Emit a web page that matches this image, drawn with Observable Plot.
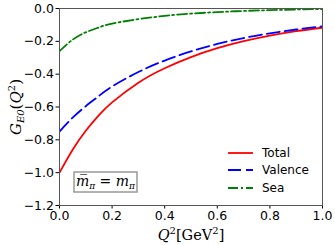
<!DOCTYPE html>
<html>
<head>
<meta charset="utf-8">
<script src="https://cdn.jsdelivr.net/npm/d3@7"></script>
<script src="https://cdn.jsdelivr.net/npm/@observablehq/plot@0.6"></script>
<style>
body { margin: 0; background: #fff; }
</style>
</head>
<body>
<div id="chart"></div>
<script>
const q = [0, 0.05, 0.1, 0.15, 0.2, 0.3, 0.4, 0.5, 0.6, 0.7, 0.8, 0.9, 1.0];
const total = [-1.0, -0.86, -0.745, -0.65, -0.572, -0.452, -0.364, -0.296, -0.242, -0.199, -0.165, -0.138, -0.117];
const valence = [-0.75, -0.665, -0.595, -0.532, -0.475, -0.387, -0.317, -0.261, -0.216, -0.18, -0.151, -0.128, -0.109];
const sea = [-0.26, -0.19, -0.145, -0.115, -0.092, -0.065, -0.045, -0.031, -0.022, -0.015, -0.01, -0.006, -0.003];
const seriesNames = ["Total", "Valence", "Sea"];
const seriesColors = ["#ff0000", "#0000ff", "#008000"];
const seriesDash = [null, "13,5", "10,3,2,3"];
const xTicks = [0, 0.2, 0.4, 0.6, 0.8, 1.0];
const yTicks = [-1.2, -1.0, -0.8, -0.6, -0.4, -0.2, 0.0];

const seriesValues = [total, valence, sea];
const rows = seriesNames.map((s, i) => q.map((x, j) => ({q: x, v: seriesValues[i][j], s})));

const W = 335, H = 245;
const mL = 59, mR = 13, mT = 8, mB = 40;

const svg = Plot.plot({
  width: W, height: H,
  marginLeft: mL, marginRight: mR, marginTop: mT, marginBottom: mB,
  style: {fontFamily: "DejaVu Sans", fontSize: "12.5px", color: "#000", background: "#fff"},
  x: {domain: [0, 1], ticks: xTicks, tickFormat: d3.format(".1f"), tickSize: 3.5, tickPadding: 2, label: null},
  y: {domain: [-1.2, 0], ticks: yTicks, tickFormat: d3.format(".1f"), tickSize: 3.5, tickPadding: 2, label: null},
  marks: [
    ...rows.map((r, i) => Plot.line(r, {
      x: "q", y: "v", stroke: seriesColors[i], strokeWidth: 1.8,
      strokeDasharray: seriesDash[i] || undefined, curve: "natural", clip: true
    })),
    Plot.frame({stroke: "#555", strokeWidth: 1})
  ]
});

const s = d3.select(svg);
// legend
const lx0 = 228, lx1 = 253, ltx = 262, ly = [153, 170, 188];
seriesNames.forEach((name, i) => {
  s.append("line").attr("x1", lx0).attr("x2", lx1).attr("y1", ly[i]).attr("y2", ly[i])
    .attr("stroke", seriesColors[i]).attr("stroke-width", 1.8)
    .attr("stroke-dasharray", seriesDash[i] || null);
  s.append("text").attr("x", ltx).attr("y", ly[i]).attr("dy", "0.35em").attr("text-anchor", "start")
    .attr("font-family", "DejaVu Sans").attr("font-size", "12px").attr("fill", "#000").text(name);
});

// annotation box
s.append("rect").attr("x", 74).attr("y", 172).attr("width", 63).attr("height", 20)
  .attr("fill", "#fff").attr("stroke", "#999").attr("stroke-width", 1.5);
const ann = s.append("text").attr("x", 105.5).attr("y", 181).attr("dy", "0.35em")
  .attr("text-anchor", "middle").attr("font-family", "DejaVu Serif").attr("font-size", "14px").attr("fill", "#000");
ann.append("tspan").attr("font-style", "italic").text("m\u0305");
ann.append("tspan").attr("font-style", "italic").attr("font-size", "9px").attr("dy", "3").text("\u03c0");
ann.append("tspan").attr("dy", "-3").text(" = ");
ann.append("tspan").attr("font-style", "italic").text("m");
ann.append("tspan").attr("font-style", "italic").attr("font-size", "9px").attr("dy", "3").text("\u03c0");

// x label
const xl = s.append("text").attr("x", 191).attr("y", 240).attr("text-anchor", "middle")
  .attr("font-family", "DejaVu Serif").attr("font-size", "14.5px").attr("fill", "#000");
xl.append("tspan").attr("font-style", "italic").text("Q");
xl.append("tspan").attr("font-size", "10px").attr("dy", "-6").text("2");
xl.append("tspan").attr("dy", "6").text("[GeV");
xl.append("tspan").attr("font-size", "10px").attr("dy", "-6").text("2");
xl.append("tspan").attr("dy", "6").text("]");

// y label
const yl = s.append("text").attr("transform", "translate(21,107) rotate(-90)").attr("text-anchor", "middle")
  .attr("font-family", "DejaVu Serif").attr("font-size", "15px").attr("fill", "#000");
yl.append("tspan").attr("font-style", "italic").text("G");
yl.append("tspan").attr("font-style", "italic").attr("font-size", "10px").attr("dy", "3").text("E0");
yl.append("tspan").attr("dy", "-3").text("(");
yl.append("tspan").attr("font-style", "italic").text("Q");
yl.append("tspan").attr("font-size", "10px").attr("dy", "-6").text("2");
yl.append("tspan").attr("dy", "6").text(")");

document.getElementById("chart").appendChild(svg);
</script>
</body>
</html>
